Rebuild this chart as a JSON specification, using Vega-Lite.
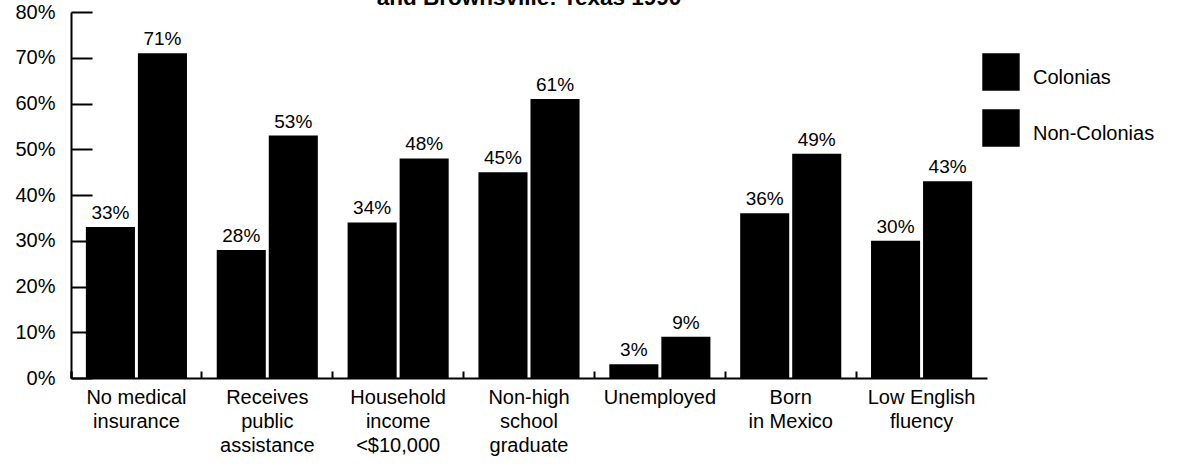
{
  "$schema": "https://vega.github.io/schema/vega-lite/v6.json",
  "width": 916,
  "height": 366,
  "autosize": {"type": "none"},
  "padding": {"left": 71, "top": 12, "right": 193, "bottom": 97},
  "background": "white",
  "title": {
    "text": "and Brownsville: Texas 1990",
    "font": "Liberation Sans",
    "fontSize": 22.5,
    "fontWeight": "bold",
    "color": "black",
    "anchor": "middle",
    "baseline": "alphabetic",
    "offset": 0,
    "dy": 25
  },
  "config": {
    "view": {"stroke": null},
    "font": "Liberation Sans"
  },
  "data": {
    "values": [
      {"category": "No medical|insurance", "group": "Colonias", "value": 0.33},
      {"category": "No medical|insurance", "group": "Non-Colonias", "value": 0.71},
      {"category": "Receives|public|assistance", "group": "Colonias", "value": 0.28},
      {"category": "Receives|public|assistance", "group": "Non-Colonias", "value": 0.53},
      {"category": "Household|income|<$10,000", "group": "Colonias", "value": 0.34},
      {"category": "Household|income|<$10,000", "group": "Non-Colonias", "value": 0.48},
      {"category": "Non-high|school|graduate", "group": "Colonias", "value": 0.45},
      {"category": "Non-high|school|graduate", "group": "Non-Colonias", "value": 0.61},
      {"category": "Unemployed", "group": "Colonias", "value": 0.03},
      {"category": "Unemployed", "group": "Non-Colonias", "value": 0.09},
      {"category": "Born|in Mexico", "group": "Colonias", "value": 0.36},
      {"category": "Born|in Mexico", "group": "Non-Colonias", "value": 0.49},
      {"category": "Low English|fluency", "group": "Colonias", "value": 0.30},
      {"category": "Low English|fluency", "group": "Non-Colonias", "value": 0.43}
    ]
  },
  "encoding": {
    "x": {
      "field": "category",
      "type": "nominal",
      "sort": null,
      "scale": {"paddingInner": 0, "paddingOuter": 0},
      "axis": {
        "title": null,
        "labelAngle": 0,
        "labelExpr": "isValid(datum.value) ? split(datum.value, '|') : ''",
        "labelFont": "Liberation Sans",
        "labelFontSize": 20,
        "labelColor": "black",
        "labelLineHeight": 24,
        "labelBaseline": "top",
        "labelPadding": 16,
        "bandPosition": 0,
        "tickExtra": true,
        "tickSize": -7,
        "tickWidth": 2,
        "tickColor": "black",
        "domainColor": "black",
        "domainWidth": 2,
        "grid": false
      }
    },
    "xOffset": {
      "field": "group",
      "type": "nominal",
      "sort": ["Colonias", "Non-Colonias"],
      "scale": {"paddingInner": 0.057, "paddingOuter": 0.286}
    },
    "y": {
      "field": "value",
      "type": "quantitative",
      "scale": {"domain": [0, 0.8], "nice": false},
      "axis": {
        "title": null,
        "format": ".0%",
        "values": [0, 0.1, 0.2, 0.3, 0.4, 0.5, 0.6, 0.7, 0.8],
        "labelFont": "Liberation Sans",
        "labelFontSize": 20,
        "labelColor": "black",
        "labelPadding": 37,
        "tickSize": -21,
        "tickWidth": 2,
        "tickColor": "black",
        "domainColor": "black",
        "domainWidth": 2,
        "grid": false
      }
    }
  },
  "layer": [
    {
      "mark": {"type": "bar"},
      "encoding": {
        "color": {
          "field": "group",
          "type": "nominal",
          "sort": ["Colonias", "Non-Colonias"],
          "scale": {"range": ["#000000", "#000000"]},
          "legend": {
            "title": null,
            "orient": "none",
            "legendX": 911,
            "legendY": 41,
            "padding": 0,
            "symbolType": "square",
            "symbolSize": 1400,
            "symbolStrokeWidth": 0,
            "symbolOpacity": 1,
            "labelFont": "Liberation Sans",
            "labelFontSize": 20,
            "labelColor": "black",
            "labelOffset": 13,
            "rowPadding": 18,
            "labelLimit": 300,
            "encode": {"labels": {"update": {"dy": {"value": 6}}}}
          }
        }
      }
    },
    {
      "mark": {
        "type": "text",
        "baseline": "alphabetic",
        "dy": -8,
        "font": "Liberation Sans",
        "fontSize": 19,
        "color": "black"
      },
      "encoding": {
        "text": {"field": "value", "type": "quantitative", "format": ".0%"}
      }
    }
  ]
}
